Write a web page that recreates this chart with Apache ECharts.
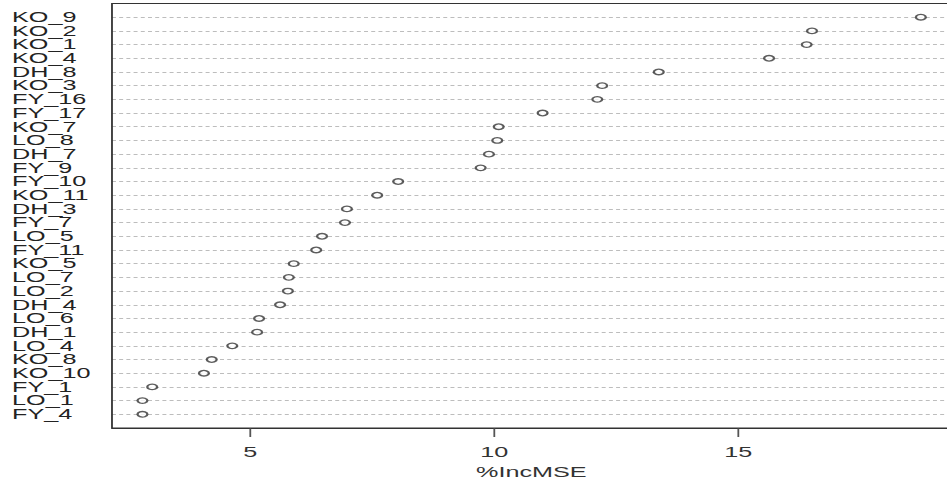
<!DOCTYPE html>
<html>
<head>
<meta charset="utf-8">
<title>%IncMSE</title>
<script src="https://cdn.jsdelivr.net/npm/echarts@6/dist/echarts.min.js"></script>
<style>
  html, body { margin: 0; padding: 0; background: #fff; overflow: hidden; }
  /* the original picture is stretched sideways, so we draw narrow and stretch */
  #main { width: 526px; height: 486px; transform: scaleX(1.8004); transform-origin: 0 0; }
</style>
</head>
<body>
<div id="main"></div>
<script>
// variables, top to bottom as in the picture
var names = ['KO_9', 'KO_2', 'KO_1', 'KO_4', 'DH_8', 'KO_3', 'FY_16', 'FY_17', 'KO_7', 'LO_8',
  'DH_7', 'FY_9', 'FY_10', 'KO_11', 'DH_3', 'FY_7', 'LO_5', 'FY_11', 'KO_5', 'LO_7',
  'LO_2', 'DH_4', 'LO_6', 'DH_1', 'LO_4', 'KO_8', 'KO_10', 'FY_1', 'LO_1', 'FY_4'];
// %IncMSE
var incMSE = [18.74, 16.51, 16.40, 15.63, 13.37, 12.21, 12.11, 10.99, 10.09, 10.06,
  9.89, 9.72, 8.03, 7.60, 6.98, 6.94, 6.47, 6.35, 5.89, 5.79,
  5.77, 5.61, 5.18, 5.14, 4.63, 4.21, 4.05, 2.99, 2.79, 2.79];
// x tick labels
var xTicks = [5, 10, 15];

var n = names.length;
// row position: top row gets n, bottom row gets 1
var points = incMSE.map(function (v, i) { return [v, n - i]; });

var chart = echarts.init(document.getElementById('main'), null, { renderer: 'svg' });

var option = {
  animation: false,
  textStyle: { fontFamily: 'Liberation Sans, Arial, sans-serif' },
  grid: {
    show: true,
    z: 10,
    left: 62.2,
    right: -2,
    top: 3.5,
    bottom: 58,
    outerBoundsMode: 'none',
    containLabel: false,
    borderColor: '#333',
    borderWidth: 1,
    backgroundColor: 'transparent'
  },
  xAxis: {
    type: 'value',
    min: 2.166,
    max: 19.35,
    name: '%IncMSE',
    nameLocation: 'middle',
    nameGap: 37,
    nameMoveOverlap: false,
    nameTextStyle: { fontSize: 14, color: '#333' },
    axisLine: { show: true, onZero: false, lineStyle: { color: '#333', width: 1 } },
    axisTick: { show: false },
    axisLabel: {
      customValues: xTicks,
      fontSize: 14,
      color: '#333',
      margin: 17
    },
    splitLine: { show: false }
  },
  yAxis: {
    type: 'value',
    min: 0,
    max: n + 1,
    interval: 1,
    axisLine: { show: false },
    axisTick: { show: false },
    axisLabel: {
      align: 'left',
      margin: 55.5,
      fontSize: 14,
      lineHeight: 13,
      color: '#222',
      padding: [2, 0, 0, 0],
      formatter: function (v) {
        var i = n - v;
        return (i >= 0 && i < n) ? names[i] : '';
      }
    },
    splitLine: {
      show: true,
      lineStyle: { color: '#bdbdbd', width: 1, type: [2.2, 1.8] }
    }
  },
  series: [
    {
      type: 'scatter',
      data: points,
      symbol: 'circle',
      symbolSize: 5.5,
      itemStyle: { color: '#fff', borderColor: '#333', borderWidth: 1.3 }
    },
    {
      // x ticks under the bottom border
      type: 'custom',
      silent: true,
      clip: false,
      data: xTicks.map(function (v) { return [v]; }),
      encode: { x: 0 },
      renderItem: function (params, api) {
        var p = api.coord([api.value(0), 0]);
        return {
          type: 'line',
          shape: { x1: p[0], y1: p[1], x2: p[0], y2: p[1] + 9 },
          style: { stroke: '#555', lineWidth: 1 }
        };
      }
    }
  ]
};

chart.setOption(option);
</script>
</body>
</html>
